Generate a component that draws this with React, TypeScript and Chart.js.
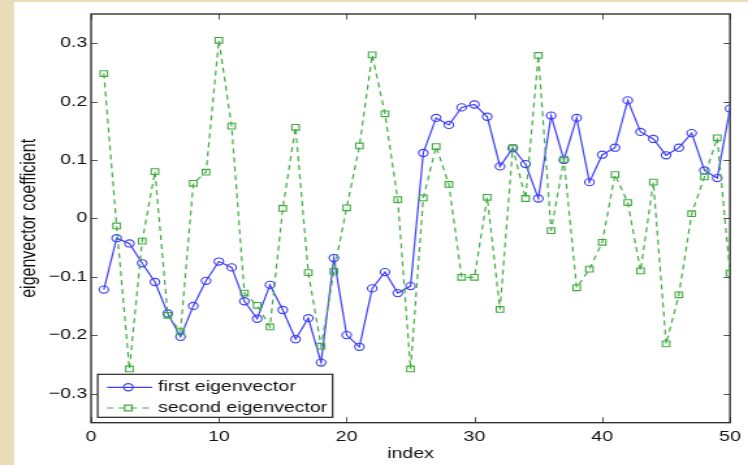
import React, { useEffect, useRef } from 'react';
import { Chart, registerables } from 'chart.js';

Chart.register(...registerables);

// ---- data ----
const INDEX = [
  1, 2, 3, 4, 5, 6, 7, 8, 9, 10, 11, 12, 13, 14, 15, 16, 17, 18, 19, 20, 21, 22, 23, 24, 25,
  26, 27, 28, 29, 30, 31, 32, 33, 34, 35, 36, 37, 38, 39, 40, 41, 42, 43, 44, 45, 46, 47, 48, 49, 50,
];
const FIRST_EIGENVECTOR = [
  -0.122, -0.034, -0.043, -0.077, -0.109, -0.163, -0.203, -0.150, -0.107, -0.074,
  -0.084, -0.142, -0.172, -0.114, -0.157, -0.207, -0.171, -0.247, -0.068, -0.200,
  -0.220, -0.120, -0.092, -0.128, -0.116, 0.112, 0.172, 0.160, 0.190, 0.195,
  0.174, 0.089, 0.120, 0.093, 0.034, 0.176, 0.100, 0.172, 0.062, 0.109,
  0.121, 0.202, 0.148, 0.136, 0.108, 0.121, 0.146, 0.082, 0.069, 0.188,
];
const SECOND_EIGENVECTOR = [
  0.248, -0.013, -0.258, -0.039, 0.080, -0.166, -0.194, 0.060, 0.079, 0.305,
  0.158, -0.128, -0.149, -0.186, 0.017, 0.156, -0.093, -0.219, -0.091, 0.018,
  0.124, 0.280, 0.179, 0.032, -0.258, 0.035, 0.123, 0.058, -0.101, -0.101,
  0.036, -0.156, 0.121, 0.034, 0.279, -0.021, 0.101, -0.119, -0.087, -0.041,
  0.075, 0.027, -0.090, 0.062, -0.215, -0.131, 0.008, 0.071, 0.138, -0.094,
];
const SERIES_LABELS = ['first eigenvector', 'second eigenvector'];
const X_TICKS = [0, 10, 20, 30, 40, 50];
const Y_TICKS = [-0.3, -0.2, -0.1, 0, 0.1, 0.2, 0.3];
const X_TITLE = 'index';
const Y_TITLE = 'eigenvector coefficient';

// ---- style ----
const OUT_W = 748;
const OUT_H = 465;
const INNER_W = 575;
const STRETCH = OUT_W / INNER_W;
const FONT = '"Liberation Sans", Arial, Helvetica, sans-serif';
const TEXT = '#111111';
const PARCHMENT = '#e8ddb6';
const BLUE = 'rgb(62,62,250)';
const GREEN = 'rgb(64,172,64)';
const FIG_LEFT = 10.8;
const FIG_TOP = 2;

const decor = {
  id: 'decor',
  beforeDraw(chart: any) {
    const { ctx, width, height } = chart;
    ctx.save();
    ctx.fillStyle = PARCHMENT;
    ctx.fillRect(0, 0, width, height);
    ctx.fillStyle = '#ffffff';
    ctx.fillRect(FIG_LEFT, FIG_TOP, width - FIG_LEFT, height - FIG_TOP);
    ctx.restore();
  },
  beforeDatasetsDraw(chart: any) {
    const { ctx, chartArea: a, scales } = chart;
    ctx.save();
    // inward tick marks on all four sides
    ctx.strokeStyle = '#555';
    ctx.lineWidth = 1;
    const tx = 5.5;
    const ty = 5;
    X_TICKS.forEach((v) => {
      const x = Math.round(scales.x.getPixelForValue(v)) + 0.5;
      ctx.beginPath();
      ctx.moveTo(x, a.bottom);
      ctx.lineTo(x, a.bottom - tx);
      ctx.moveTo(x, a.top);
      ctx.lineTo(x, a.top + tx);
      ctx.stroke();
    });
    Y_TICKS.forEach((v) => {
      const y = Math.round(scales.y.getPixelForValue(v)) + 0.5;
      ctx.beginPath();
      ctx.moveTo(a.left, y);
      ctx.lineTo(a.left + ty, y);
      ctx.moveTo(a.right, y);
      ctx.lineTo(a.right - ty, y);
      ctx.stroke();
    });
    // axes box
    ctx.strokeStyle = '#262626';
    ctx.lineWidth = 1.3;
    ctx.strokeRect(a.left, a.top, a.right - a.left, a.bottom - a.top);
    ctx.restore();
  },
  afterDatasetsDraw(chart: any) {
    const { ctx } = chart;
    const ds = chart.data.datasets;
    ctx.save();
    const bx = 75.1;
    const by = 374.3;
    const bw = 180.6;
    const bh = 43;
    ctx.fillStyle = '#ffffff';
    ctx.fillRect(bx, by, bw, bh);
    ctx.strokeStyle = '#262626';
    ctx.lineWidth = 1.2;
    ctx.strokeRect(bx, by, bw, bh);
    const rows = [387.3, 408];
    rows.forEach((ry, i) => {
      const d = ds[i];
      ctx.strokeStyle = d.borderColor;
      ctx.lineWidth = d.borderWidth;
      ctx.setLineDash(d.borderDash || []);
      ctx.beginPath();
      ctx.moveTo(82.3, ry);
      ctx.lineTo(116.9, ry);
      ctx.stroke();
      ctx.setLineDash([]);
      ctx.beginPath();
      if (d.pointStyle === 'rect') {
        const s = d.pointRadius * Math.SQRT1_2;
        ctx.rect(98.6 - s, ry - s, 2 * s, 2 * s);
      } else {
        ctx.arc(98.6, ry, d.pointRadius, 0, Math.PI * 2);
      }
      ctx.stroke();
      ctx.fillStyle = TEXT;
      ctx.font = `15px ${FONT}`;
      ctx.textAlign = 'left';
      ctx.textBaseline = 'middle';
      ctx.fillText(d.label, 121.5, ry);
    });
    ctx.restore();
  },
};

function fmtY(v: number): string {
  if (Math.abs(v) < 1e-9) return '0';
  return (v < 0 ? '\u2212' : '') + Math.abs(v).toFixed(1);
}

export default function App() {
  const ref = useRef<HTMLCanvasElement | null>(null);

  useEffect(() => {
    document.body.style.margin = '0';
    const canvas = ref.current;
    if (!canvas) return;
    const chart = new Chart(canvas, {
      type: 'line',
      data: {
        datasets: [
          {
            label: SERIES_LABELS[0],
            data: INDEX.map((x, i) => ({ x, y: FIRST_EIGENVECTOR[i] })),
            borderColor: BLUE,
            borderWidth: 1.2,
            pointStyle: 'circle',
            pointRadius: 3.6,
            pointBorderWidth: 1.1,
            pointBorderColor: BLUE,
            pointBackgroundColor: 'rgba(0,0,0,0)',
            tension: 0,
            fill: false,
            order: 1,
          },
          {
            label: SERIES_LABELS[1],
            data: INDEX.map((x, i) => ({ x, y: SECOND_EIGENVECTOR[i] })),
            borderColor: GREEN,
            borderWidth: 1.2,
            borderDash: [5, 4],
            pointStyle: 'rect',
            pointRadius: 4,
            pointBorderWidth: 1.1,
            pointBorderColor: GREEN,
            pointBackgroundColor: 'rgba(0,0,0,0)',
            tension: 0,
            fill: false,
            order: 0,
          },
        ],
      },
      options: {
        responsive: false,
        animation: false,
        devicePixelRatio: 1,
        layout: { padding: { left: 0, top: 14, right: 11.3, bottom: 0 } },
        plugins: {
          legend: { display: false },
          tooltip: { enabled: false },
        },
        scales: {
          x: {
            type: 'linear',
            min: 0,
            max: 50,
            grid: { display: false, drawTicks: false },
            border: { display: false },
            afterBuildTicks: (s: any) => {
              s.ticks = X_TICKS.map((v) => ({ value: v }));
            },
            afterFit: (s: any) => {
              s.height = 42.3;
            },
            ticks: {
              font: { family: FONT, size: 15 },
              color: TEXT,
              padding: 5.5,
              maxRotation: 0,
              autoSkip: false,
              callback: (v: any) => String(v),
            },
            title: {
              display: true,
              text: X_TITLE,
              font: { family: FONT, size: 15 },
              color: TEXT,
              padding: { top: 0, bottom: 2 },
            },
          },
          y: {
            type: 'linear',
            min: -0.35,
            max: 0.35,
            grid: { display: false, drawTicks: false },
            border: { display: false },
            afterBuildTicks: (s: any) => {
              s.ticks = Y_TICKS.map((v) => ({ value: v }));
            },
            afterFit: (s: any) => {
              s.width = 70;
            },
            ticks: {
              font: { family: FONT, size: 15 },
              color: TEXT,
              padding: 3,
              autoSkip: false,
              callback: (v: any) => fmtY(Number(v)),
            },
            title: {
              display: true,
              text: Y_TITLE,
              font: { family: FONT, size: 16 },
              color: TEXT,
              padding: { top: 12.7, bottom: 0 },
            },
          },
        },
      },
      plugins: [decor],
    } as any);
    return () => chart.destroy();
  }, []);

  return (
    <div
      style={{
        position: 'absolute',
        left: 0,
        top: 0,
        width: OUT_W,
        height: OUT_H,
        overflow: 'hidden',
        background: PARCHMENT,
      }}
    >
      <canvas
        ref={ref}
        width={INNER_W}
        height={OUT_H}
        style={{
          display: 'block',
          transform: `scaleX(${STRETCH})`,
          transformOrigin: '0 0',
        }}
      />
    </div>
  );
}
